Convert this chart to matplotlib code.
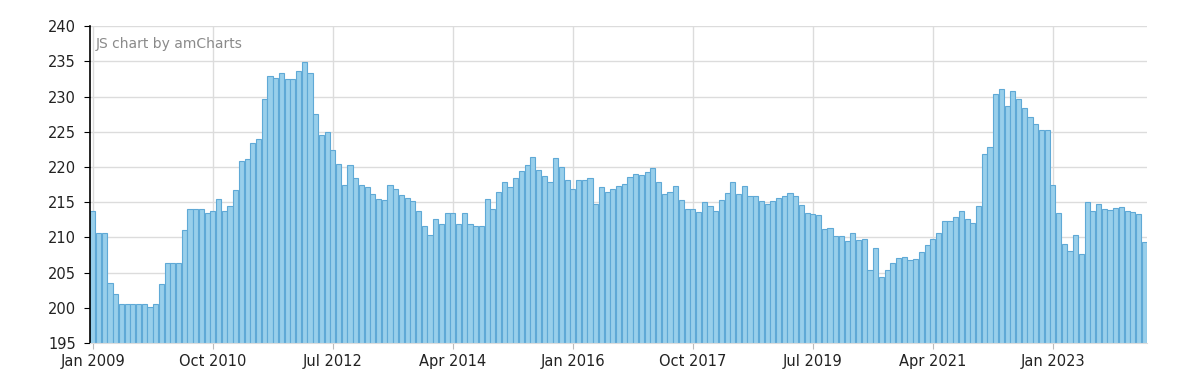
import numpy as np
import pandas as pd
import matplotlib
matplotlib.use("Agg")
import matplotlib.pyplot as plt

# monthly values, Jan 2009 .. May 2024
months = pd.date_range("2009-01-01", periods=185, freq="MS")
values = [
    213.7, 210.6, 210.6, 203.5, 202.0, 200.5, 200.5, 200.5, 200.5, 200.5, 200.1, 200.5,
    203.4, 206.3, 206.3, 206.3, 211.1, 214.0, 214.0, 214.0, 213.4, 213.7, 215.5, 213.7,
    214.5, 216.7, 220.8, 221.2, 223.4, 224.0, 229.6, 232.9, 232.7, 233.3, 232.5, 232.5,
    233.7, 234.9, 233.4, 227.5, 224.6, 224.9, 222.4, 220.4, 217.5, 220.3, 218.4, 217.5,
    217.1, 216.1, 215.4, 215.3, 217.5, 216.9, 216.0, 215.6, 215.1, 213.8, 211.6, 210.3,
    212.6, 211.9, 213.4, 213.4, 211.9, 213.5, 211.9, 211.6, 211.6, 215.4, 214.1, 216.5,
    217.8, 217.1, 218.4, 219.4, 220.3, 221.4, 219.6, 218.7, 217.8, 221.3, 220.0, 218.2,
    216.9, 218.2, 218.1, 218.5, 214.8, 217.2, 216.5, 216.9, 217.3, 217.6, 218.6, 219.0,
    218.8, 219.3, 219.9, 217.8, 216.1, 216.4, 217.3, 215.3, 214.1, 214.0, 213.6, 215.0,
    214.4, 213.8, 215.3, 216.3, 217.8, 216.1, 217.3, 215.9, 215.9, 215.2, 214.8, 215.2,
    215.6, 215.9, 216.3, 215.9, 214.6, 213.4, 213.3, 213.2, 211.2, 211.4, 210.2, 210.2,
    209.5, 210.6, 209.6, 209.8, 205.3, 208.5, 204.4, 205.3, 206.4, 207.1, 207.2, 206.8,
    206.9, 207.9, 208.9, 209.8, 210.6, 212.3, 212.3, 212.9, 213.8, 212.6, 212.0, 214.4,
    221.8, 222.8, 230.3, 231.1, 228.7, 230.8, 229.6, 228.4, 227.1, 226.1, 225.2, 225.2,
    217.5, 213.5, 209.1, 208.1, 210.3, 207.7, 215.0, 213.7, 214.7, 214.0, 213.9, 214.2,
    214.3, 213.8, 213.6, 213.3, 209.4,
]
tick_labels = ["Jan 2009", "Oct 2010", "Jul 2012", "Apr 2014", "Jan 2016",
               "Oct 2017", "Jul 2019", "Apr 2021", "Jan 2023"]
y_ticks = list(range(195, 241, 5))

fig = plt.figure(figsize=(12, 3.79), dpi=100)
ax = fig.add_axes([0.075, 0.095, 0.881, 0.836])

x = np.arange(len(values))
ax.bar(x, values, width=0.9, color="#98cfeb", edgecolor="#5fa9d6",
       linewidth=0.8, zorder=2)

ax.set_xlim(-0.5, len(values) - 0.5)
ax.set_ylim(195, 240)
ax.set_yticks(y_ticks)
ax.set_yticklabels([str(v) for v in y_ticks])

tick_pos = [i for i, m in enumerate(months) if m.strftime("%b %Y") in tick_labels]
ax.set_xticks(tick_pos)
ax.set_xticklabels(tick_labels)

ax.grid(True, color="#dcdcdc", linewidth=1, zorder=0)
ax.set_axisbelow(True)
for s in ["top", "right"]:
    ax.spines[s].set_visible(False)
ax.spines["left"].set_color("black")
ax.spines["left"].set_linewidth(1.2)
ax.spines["bottom"].set_color("#dcdcdc")

ax.tick_params(axis="y", length=4, color="black", labelsize=10.5,
               labelcolor="#222222", pad=6)
ax.tick_params(axis="x", length=4, color="#bbbbbb", labelsize=10.5,
               labelcolor="#222222", pad=4)

ax.text(0.005, 0.965, "JS chart by amCharts", transform=ax.transAxes,
        fontsize=10, color="#8a8a8a", va="top", ha="left")

fig.savefig("out.png", dpi=100)
